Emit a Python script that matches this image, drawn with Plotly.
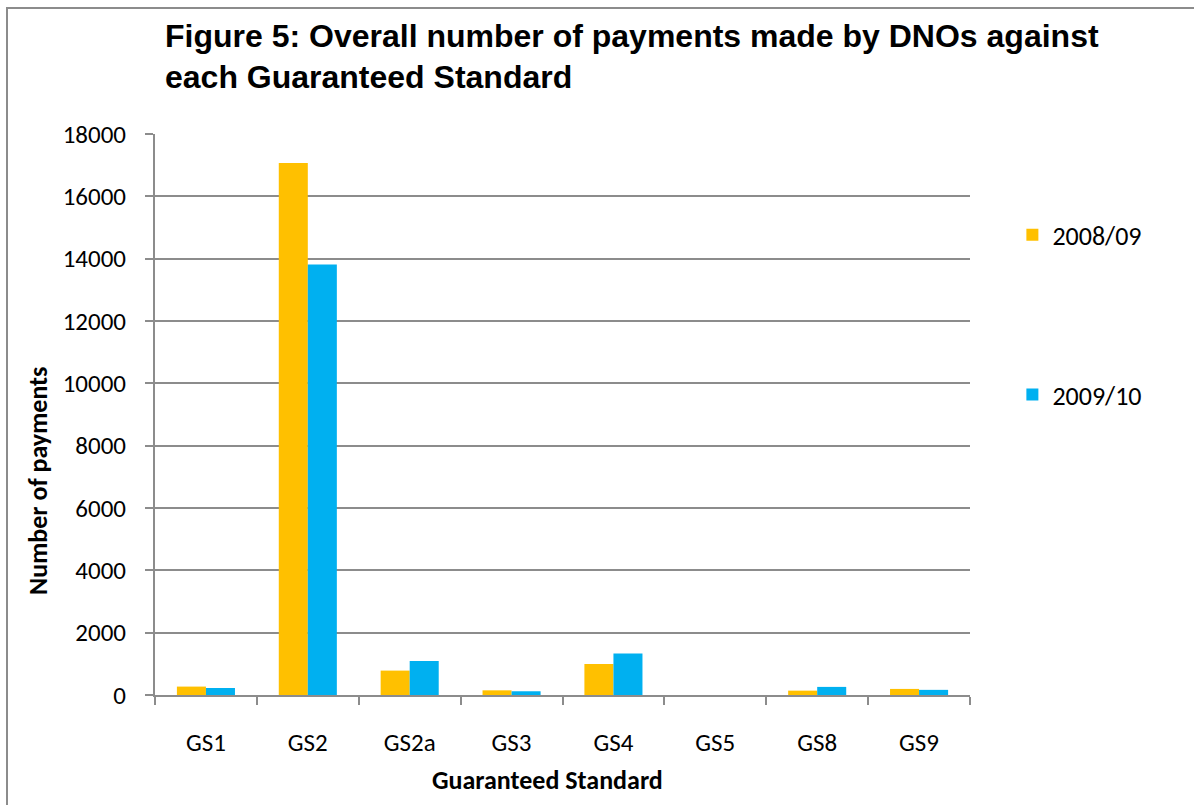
import plotly.graph_objects as go

standards = ["GS1", "GS2", "GS2a", "GS3", "GS4", "GS5", "GS8", "GS9"]
payments_2008_09 = [270, 17070, 783, 150, 995, 0, 140, 195]
payments_2009_10 = [225, 13810, 1092, 120, 1330, 0, 260, 165]
y_ticks = [0, 2000, 4000, 6000, 8000, 10000, 12000, 14000, 16000, 18000]

body_font = "Carlito, Calibri, Lato, sans-serif"
title_font = "Liberation Sans, Arial, sans-serif"
title_lines = [
    "Figure 5: Overall number of payments made by DNOs against",
    "each Guaranteed Standard",
]

fig = go.Figure()
fig.add_trace(go.Bar(
    name="2008/09", x=standards, y=payments_2008_09,
    marker=dict(color="#FFC000", line=dict(width=0)),
    legendgroup="a",
))
fig.add_trace(go.Bar(
    name="2009/10", x=standards, y=payments_2009_10,
    marker=dict(color="#00B0F0", line=dict(width=0)),
    legendgroup="b",
))

fig.update_layout(
    width=1194, height=805,
    margin=dict(l=155, r=224, t=134, b=110),
    paper_bgcolor="white", plot_bgcolor="white",
    barmode="group", bargap=0.43, bargroupgap=0,
    showlegend=True,
    legend=dict(
        x=1.052, y=0.862, xanchor="left", yanchor="top",
        font=dict(family=body_font, size=26, color="black"),
        tracegroupgap=123, bgcolor="rgba(0,0,0,0)",
        itemclick=False,
    ),
    font=dict(family=body_font, size=25, color="black"),
)

fig.update_yaxes(
    range=[0, 18000], tickvals=y_ticks, ticktext=[str(v) for v in y_ticks],
    showgrid=True, gridcolor="#8c8c8c", gridwidth=2,
    showline=True, linecolor="#8c8c8c", linewidth=2,
    ticks="outside", ticklen=8, tickcolor="#8c8c8c", tickwidth=2,
    ticklabelstandoff=14,
    tickfont=dict(family=body_font, size=25, color="black"),
    zeroline=False,
)
fig.update_xaxes(
    showline=True, linecolor="#8c8c8c", linewidth=2,
    ticks="outside", ticklen=8, tickcolor="#8c8c8c", tickwidth=2,
    tickson="boundaries", ticklabelstandoff=24,
    tickfont=dict(family=body_font, size=25, color="black"),
)

# chart title, two lines
for line, ypos in zip(title_lines, [1.1747, 1.1016]):
    fig.add_annotation(
        text=f"<b>{line}</b>", xref="paper", yref="paper",
        x=0.0098, y=ypos, xanchor="left", yanchor="middle", showarrow=False,
        font=dict(family=title_font, size=32, color="black"),
    )

# axis titles
fig.add_annotation(
    text="<b>Number of payments</b>", xref="paper", yref="paper",
    x=-0.1436, y=0.3815, textangle=-90, showarrow=False,
    xanchor="center", yanchor="middle",
    font=dict(family=body_font, size=26, color="black"),
)
fig.add_annotation(
    text="<b>Guaranteed Standard</b>", xref="paper", yref="paper",
    x=0.4822, y=-0.1515, showarrow=False,
    xanchor="center", yanchor="middle",
    font=dict(family=body_font, size=26, color="black"),
)

# frame around the whole chart area
fig.add_shape(
    type="rect", xref="paper", yref="paper",
    x0=(7 - 155) / 815, x1=1.35, y0=-0.35, y1=(695 - 8) / 561,
    line=dict(color="#8c8c8c", width=2), fillcolor="rgba(0,0,0,0)",
    layer="below",
)

fig.write_html("out.html")
